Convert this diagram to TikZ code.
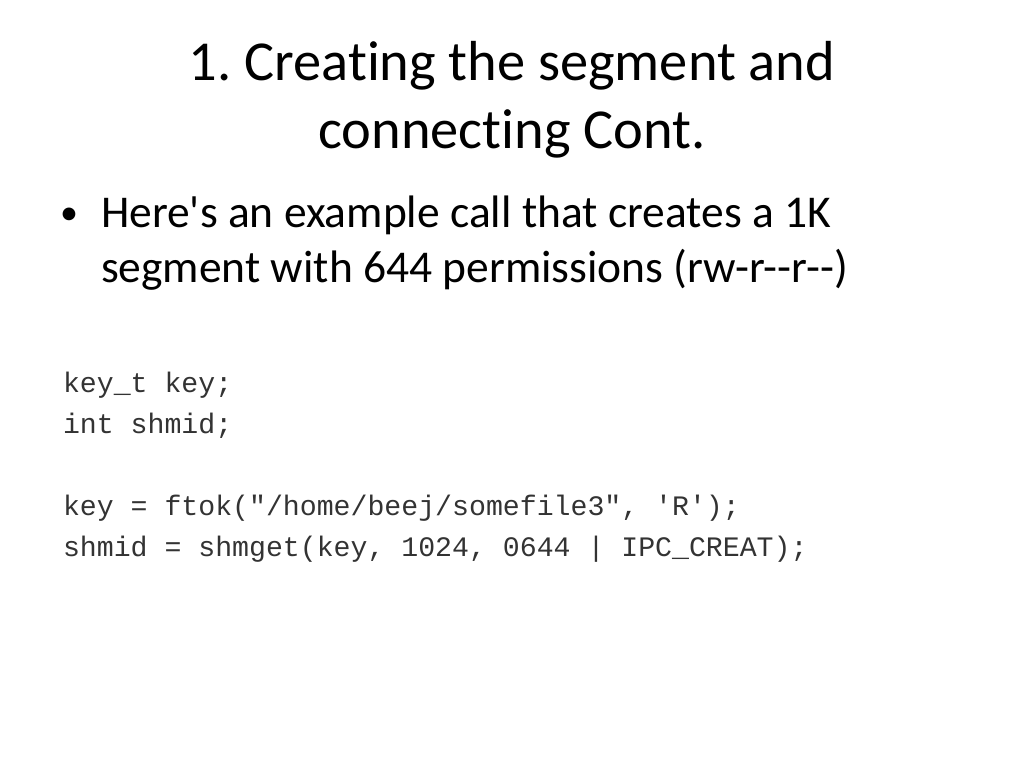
\documentclass[tikz,border=0pt]{standalone}
\usepackage{fontspec}
\setmainfont[Ligatures={NoCommon}]{Carlito}
\newfontfamily\codefont{Liberation Mono}
\frenchspacing
\begin{document}
\begin{tikzpicture}[x=1pt,y=-1pt,
  every node/.style={inner sep=0pt,outer sep=0pt},
  titletext/.style={anchor=base,font=\fontsize{56.4}{68}\selectfont},
  bodytext/.style={anchor=base west,font=\fontsize{45.5}{55}\selectfont},
  bulletmark/.style={anchor=base west,font=\fontsize{36}{40}\selectfont},
  codetext/.style={anchor=base west,font=\codefont\fontsize{28.2}{41}\selectfont,text=black!80}]
\fill[white] (0,0) rectangle (1024,768);
\useasboundingbox (0,0) rectangle (1024,768);
\node[titletext] (t1) at (512,80) {1. Creating the segment and};
\node[titletext] (t2) at (512,148) {connecting Cont.};
\node[bulletmark] (bul) at (60,224) {•};
\node[bodytext] (b1) at (101,227) {Here\textquotesingle s an example call that creates a 1K};
\node[bodytext] (b2) at (101,282) {segment with 644 permissions (rw-r-{}-r-{}-)};
\node[codetext] (c1) at (63,392) {key\_t key;};
\node[codetext] (c2) at (63,433) {int shmid;};
\node[codetext] (c3) at (63,515) {key = ftok("/home/beej/somefile3", 'R');};
\node[codetext] (c4) at (63,556) {shmid = shmget(key, 1024, 0644 | IPC\_CREAT);};
\end{tikzpicture}
\end{document}
